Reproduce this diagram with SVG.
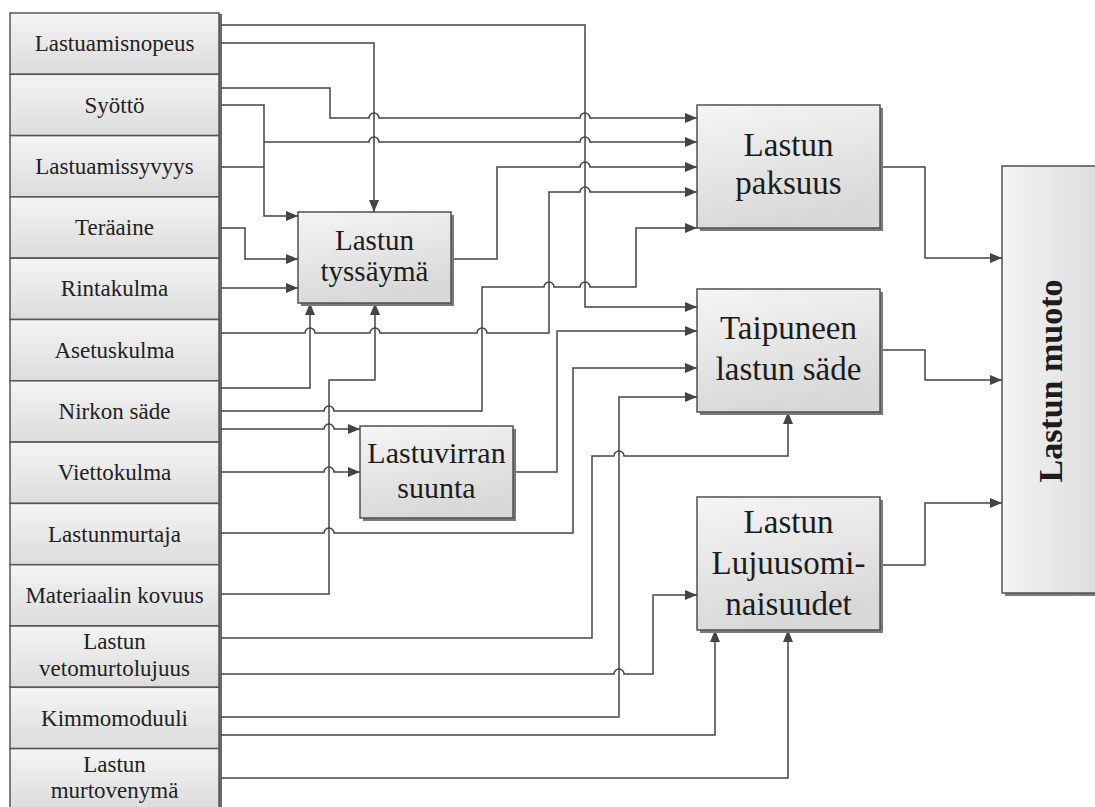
<svg xmlns="http://www.w3.org/2000/svg" width="1095" height="807" viewBox="0 0 1095 807">
<style>
.cell{fill:url(#gv);stroke:#555;stroke-width:1.5}
.box{fill:url(#gd);stroke:#505050;stroke-width:1.5}
.sh{fill:#7a7a7a}
.lt{font-family:'Liberation Serif',serif;font-size:23px;fill:#222;text-anchor:middle}
.bt{font-family:'Liberation Serif',serif;fill:#1c1c1c;text-anchor:middle}
.c{fill:none;stroke:#454545;stroke-width:1.5}
.a{marker-end:url(#ah)}
</style>
<defs>
<linearGradient id="gv" x1="0" y1="0" x2="0" y2="1"><stop offset="0" stop-color="#f4f4f4"/><stop offset="1" stop-color="#dcdcdc"/></linearGradient>
<linearGradient id="gd" x1="0" y1="0" x2="0.3" y2="1"><stop offset="0" stop-color="#f5f5f5"/><stop offset="1" stop-color="#d8d8d8"/></linearGradient>
<linearGradient id="gh" x1="0" y1="0" x2="1" y2="0"><stop offset="0" stop-color="#f4f4f4"/><stop offset="1" stop-color="#dadada"/></linearGradient>
<marker id="ah" viewBox="0 0 12 10" refX="12" refY="5" markerWidth="12" markerHeight="10" markerUnits="userSpaceOnUse" orient="auto"><path d="M0,0 L12,5 L0,10 z" fill="#444"/></marker>
</defs>
<rect width="1095" height="807" fill="#fff"/>

<g id="inputs">
<rect x="219" y="14" width="3" height="796" fill="#6a6a6a"/>
<g id="n-lastuamisnopeus"><rect class="cell" x="10" y="13" width="209" height="61.3"/><text class="lt" x="114.5" y="51">Lastuamisnopeus</text></g>
<g id="n-syotto"><rect class="cell" x="10" y="74.3" width="209" height="61.3"/><text class="lt" x="114.5" y="112.5">Syöttö</text></g>
<g id="n-lastuamissyvyys"><rect class="cell" x="10" y="135.6" width="209" height="61.3"/><text class="lt" x="114.5" y="173.7">Lastuamissyvyys</text></g>
<g id="n-teraaine"><rect class="cell" x="10" y="196.9" width="209" height="61.3"/><text class="lt" x="114.5" y="235">Teräaine</text></g>
<g id="n-rintakulma"><rect class="cell" x="10" y="258.2" width="209" height="61.3"/><text class="lt" x="114.5" y="296.4">Rintakulma</text></g>
<g id="n-asetuskulma"><rect class="cell" x="10" y="319.5" width="209" height="61.3"/><text class="lt" x="114.5" y="357.6">Asetuskulma</text></g>
<g id="n-nirkon"><rect class="cell" x="10" y="380.8" width="209" height="61.3"/><text class="lt" x="114.5" y="418.9">Nirkon säde</text></g>
<g id="n-viettokulma"><rect class="cell" x="10" y="442.1" width="209" height="61.3"/><text class="lt" x="114.5" y="480.3">Viettokulma</text></g>
<g id="n-lastunmurtaja"><rect class="cell" x="10" y="503.4" width="209" height="61.3"/><text class="lt" x="114.5" y="541.5">Lastunmurtaja</text></g>
<g id="n-kovuus"><rect class="cell" x="10" y="564.7" width="209" height="61.3"/><text class="lt" x="114.5" y="602.9">Materiaalin kovuus</text></g>
<g id="n-vetomurto"><rect class="cell" x="10" y="626" width="209" height="61.3"/><text class="lt" x="114.5" y="649">Lastun</text><text class="lt" x="114.5" y="676">vetomurtolujuus</text></g>
<g id="n-kimmo"><rect class="cell" x="10" y="687.3" width="209" height="61.3"/><text class="lt" x="114.5" y="725.5">Kimmomoduuli</text></g>
<g id="n-murtovenyma"><rect class="cell" x="10" y="748.6" width="209" height="61.3"/><text class="lt" x="114.5" y="772">Lastun</text><text class="lt" x="114.5" y="798">murtovenymä</text></g>
</g>

<g id="connectors">
<path class="c a" d="M221,25 H585 V307 H697"/>
<path class="c a" d="M221,43 H374 V212"/>
<path class="c a" d="M221,88 H330 V118 H369 A5,5 0 0 1 379,118 H580 A5,5 0 0 1 590,118 H697"/>
<path class="c a" d="M221,105 H264 V216 H298"/>
<path class="c" d="M221,167 H264"/>
<path class="c a" d="M264,142 H369 A5,5 0 0 1 379,142 H580 A5,5 0 0 1 590,142 H697"/>
<path class="c a" d="M221,228 H245 V259 H298"/>
<path class="c a" d="M221,288 H298"/>
<path class="c a" d="M221,333 H305 A5,5 0 0 1 315,333 H370 A5,5 0 0 1 380,333 H477 A5,5 0 0 1 487,333 H549 V192 H580 A5,5 0 0 1 590,192 H697"/>
<path class="c a" d="M221,388 H310 V303"/>
<path class="c a" d="M221,411 H324 A5,5 0 0 1 334,411 H482 V287 H544 A5,5 0 0 1 554,287 H580 A5,5 0 0 1 590,287 H636 V228 H697"/>
<path class="c a" d="M221,429 H324 A5,5 0 0 1 334,429 H360"/>
<path class="c a" d="M221,472 H324 A5,5 0 0 1 334,472 H360"/>
<path class="c a" d="M221,533 H324 A5,5 0 0 1 334,533 H573 V368 H697"/>
<path class="c a" d="M221,594 H329 V380 H375 V303"/>
<path class="c a" d="M221,638 H592 V456 H614 A5,5 0 0 1 624,456 H788 V412"/>
<path class="c a" d="M221,674 H614 A5,5 0 0 1 624,674 H653 V595 H697"/>
<path class="c a" d="M221,717 H619 V397 H697"/>
<path class="c a" d="M221,735 H715 V630"/>
<path class="c a" d="M221,778 H788 V630"/>
<path class="c a" d="M451,259 H497 V167 H580 A5,5 0 0 1 590,167 H697"/>
<path class="c a" d="M513,472 H557 V331 H697"/>
<path class="c a" d="M880,167 H925 V258 H1002"/>
<path class="c a" d="M880,350 H925 V380 H1002"/>
<path class="c a" d="M880,565 H925 V503 H1002"/>
</g>

<g id="n-tyssayma">
<rect class="sh" x="301" y="215" width="153" height="91"/>
<rect class="box" x="298" y="212" width="153" height="91"/>
<text class="bt" font-size="29" x="374.5" y="250">Lastun</text>
<text class="bt" font-size="29" x="374.5" y="281">tyssäymä</text>
</g>
<g id="n-lastuvirran">
<rect class="sh" x="363" y="429" width="153" height="92"/>
<rect class="box" x="360" y="426" width="153" height="92"/>
<text class="bt" font-size="30" x="436.5" y="463">Lastuvirran</text>
<text class="bt" font-size="30" x="436.5" y="498">suunta</text>
</g>
<g id="n-paksuus">
<rect class="sh" x="700" y="108" width="183" height="123"/>
<rect class="box" x="697" y="105" width="183" height="123"/>
<text class="bt" font-size="33" x="788.5" y="156">Lastun</text>
<text class="bt" font-size="33" x="788.5" y="194">paksuus</text>
</g>
<g id="n-taipuneen">
<rect class="sh" x="700" y="292" width="183" height="123"/>
<rect class="box" x="697" y="289" width="183" height="123"/>
<text class="bt" font-size="33" x="788.5" y="339">Taipuneen</text>
<text class="bt" font-size="33" x="788.5" y="380">lastun säde</text>
</g>
<g id="n-lujuus">
<rect class="sh" x="700" y="500" width="183" height="133"/>
<rect class="box" x="697" y="497" width="183" height="133"/>
<text class="bt" font-size="33" x="788.5" y="533">Lastun</text>
<text class="bt" font-size="33" x="788.5" y="574">Lujuusomi-</text>
<text class="bt" font-size="33" x="788.5" y="615">naisuudet</text>
</g>
<g id="n-muoto">
<rect class="sh" x="1005" y="169" width="100" height="427"/>
<rect x="1002" y="166" width="110" height="427" fill="url(#gh)" stroke="#505050" stroke-width="1.5"/>
<text class="bt" font-size="34" font-weight="bold" transform="translate(1062,381) rotate(-90)">Lastun muoto</text>
</g>
</svg>
